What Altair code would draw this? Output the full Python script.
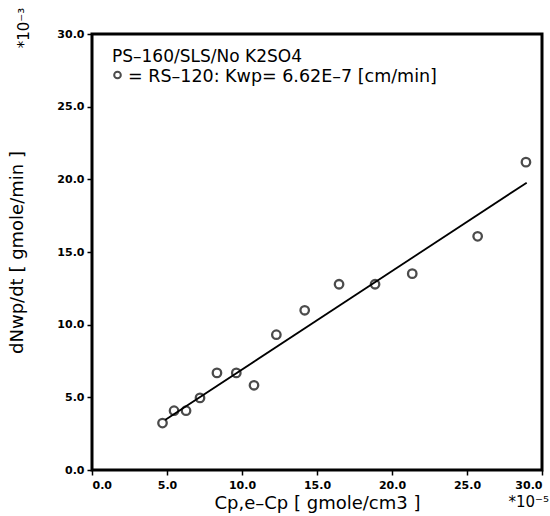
import altair as alt
import pandas as pd

# data (x in 1e-5 gmole/cm3, y in 1e-3 gmole/min)
cp_diff = [4.7, 5.47, 6.27, 7.2, 8.33, 9.62, 10.8, 12.29, 14.18, 16.47, 18.87, 21.35, 25.71, 28.93]
dnwp_dt = [3.23, 4.08, 4.08, 4.96, 6.68, 6.68, 5.83, 9.31, 10.99, 12.78, 12.78, 13.51, 16.08, 21.18]
fit_x = [4.87, 28.98]
fit_y = [3.44, 19.77]
major_ticks = [0, 5, 10, 15, 20, 25, 30]

pts = pd.DataFrame({"x": cp_diff, "y": dnwp_dt})
fit = pd.DataFrame({"x": fit_x, "y": fit_y})

W, H = 450, 436
FONT = "DejaVu Sans"

xs = alt.Scale(domain=[0, 30], nice=False, zero=False)
ys = alt.Scale(domain=[0, 30], nice=False, zero=False)

lab = dict(labelFont=FONT, labelFontSize=11, labelFontWeight="bold", labelColor="black",
           tickColor="black", tickWidth=1.5, tickSize=5, domain=False, grid=False)

x_axis = alt.Axis(values=major_ticks, format=".1f", title="Cp,e–Cp [ gmole/cm3 ]",
                  titleFont=FONT, titleFontSize=18, titleFontWeight="normal", titleColor="black",
                  titlePadding=4, labelPadding=4, orient="bottom", **lab)
y_axis = alt.Axis(values=major_ticks, format=".1f", title="dNwp/dt [ gmole/min ]",
                  titleFont=FONT, titleFontSize=18, titleFontWeight="normal", titleColor="black",
                  titlePadding=30, labelPadding=3, orient="left", **lab)

points = alt.Chart(pts).mark_point(shape="circle", filled=False, color="black",
                                   size=72, strokeWidth=2.3).encode(
    x=alt.X("x:Q", scale=xs, axis=x_axis),
    y=alt.Y("y:Q", scale=ys, axis=y_axis),
)

line = alt.Chart(fit).mark_line(color="black", strokeWidth=1.8).encode(
    x=alt.X("x:Q", scale=xs),
    y=alt.Y("y:Q", scale=ys),
)

one = pd.DataFrame({"a": [0]})
line1 = alt.Chart(one).mark_text(text="PS–160/SLS/No K2SO4", font=FONT, fontSize=17,
                                 align="left", baseline="alphabetic", color="black").encode(
    x=alt.value(20), y=alt.value(28))
legend_marker = alt.Chart(one).mark_point(shape="circle", filled=False, color="black",
                                          size=44, strokeWidth=2).encode(
    x=alt.value(25.5), y=alt.value(41))
line2 = alt.Chart(one).mark_text(text="= RS–120: Kwp= 6.62E–7 [cm/min]", font=FONT, fontSize=17.5,
                                 align="left", baseline="alphabetic", color="black").encode(
    x=alt.value(36), y=alt.value(48))
exp_y = alt.Chart(one).mark_text(text="*10⁻³", font=FONT, fontSize=15, angle=270,
                                 align="center", baseline="middle", color="black").encode(
    x=alt.value(-68), y=alt.value(-6))
exp_x = alt.Chart(one).mark_text(text="*10⁻⁵", font=FONT, fontSize=15,
                                 align="right", baseline="middle", color="black").encode(
    x=alt.value(457), y=alt.value(468))

chart = alt.layer(points, line, line1, legend_marker, line2, exp_y, exp_x).properties(
    width=W, height=H,
    autosize=alt.AutoSizeParams(type="none"),
    padding={"left": 92, "top": 34, "right": 8, "bottom": 46},
    background="white",
).configure_view(stroke="black", strokeWidth=3)

chart.save("out.html", embed_options={"renderer": "svg", "actions": False})
